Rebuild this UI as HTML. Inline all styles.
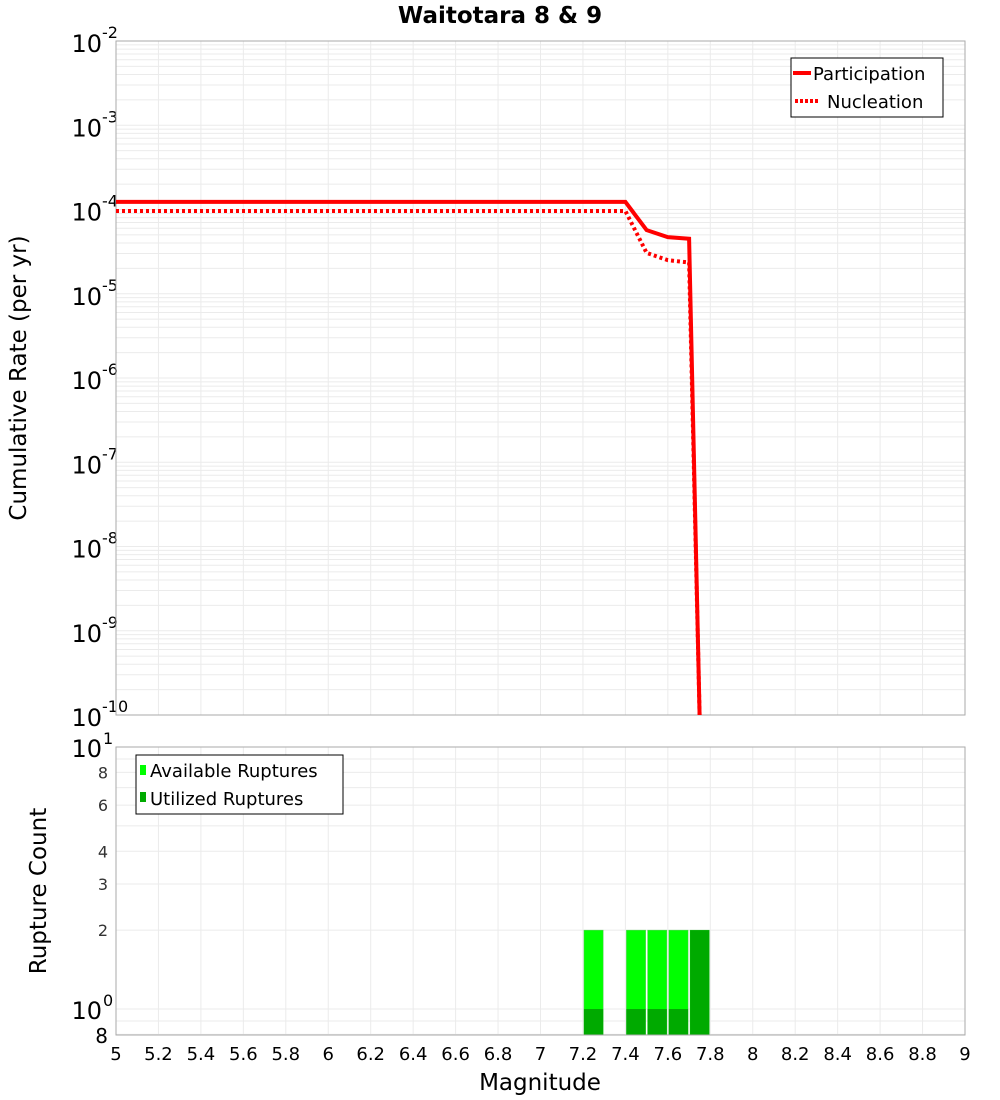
<!DOCTYPE html>
<html><head><meta charset="utf-8"><style>
body{margin:0;background:#fff;}
svg{display:block;font-family:"DejaVu Sans","Liberation Sans",sans-serif;}
</style></head><body>
<svg id="c" width="1000" height="1100" xmlns="http://www.w3.org/2000/svg">
<rect width="1000" height="1100" fill="#fff"/>
<text x="500" y="23" text-anchor="middle" font-size="23" font-weight="bold">Waitotara 8 &amp; 9</text>
<g id="topG"></g>
<g id="botG"></g>
<text transform="translate(26,378) rotate(-90)" text-anchor="middle" font-size="23">Cumulative Rate (per yr)</text>
<text transform="translate(46,891) rotate(-90)" text-anchor="middle" font-size="23">Rupture Count</text>
<text x="540" y="1090" text-anchor="middle" font-size="23">Magnitude</text>
</svg>
<script>
const partMags=[5,5.1,5.2,5.3,5.4,5.5,5.6,5.7,5.8,5.9,6,6.1,6.2,6.3,6.4,6.5,6.6,6.7,6.8,6.9,7,7.1,7.2,7.3,7.4,7.5,7.6,7.7,7.75];
const partRates=[1.23e-4,1.23e-4,1.23e-4,1.23e-4,1.23e-4,1.23e-4,1.23e-4,1.23e-4,1.23e-4,1.23e-4,1.23e-4,1.23e-4,1.23e-4,1.23e-4,1.23e-4,1.23e-4,1.23e-4,1.23e-4,1.23e-4,1.23e-4,1.23e-4,1.23e-4,1.23e-4,1.23e-4,1.23e-4,5.7e-5,4.7e-5,4.5e-5,1e-12];
const nuclRates=[9.6e-5,9.6e-5,9.6e-5,9.6e-5,9.6e-5,9.6e-5,9.6e-5,9.6e-5,9.6e-5,9.6e-5,9.6e-5,9.6e-5,9.6e-5,9.6e-5,9.6e-5,9.6e-5,9.6e-5,9.6e-5,9.6e-5,9.6e-5,9.6e-5,9.6e-5,9.6e-5,9.6e-5,9.6e-5,3.05e-5,2.5e-5,2.35e-5,1e-12];
const binMags=[7.2,7.4,7.5,7.6,7.7];
const availCounts=[2,2,2,2,2];
const usedCounts=[1,1,1,1,2];
const xTicks=["5","5.2","5.4","5.6","5.8","6","6.2","6.4","6.6","6.8","7","7.2","7.4","7.6","7.8","8","8.2","8.4","8.6","8.8","9"];
const yExps=[-2,-3,-4,-5,-6,-7,-8,-9,-10];
const botTicks=["8","6","4","3","2"];
const botTickVals=[8,6,4,3,2];

const NS="http://www.w3.org/2000/svg";
const L=116,R=965,T1=41,B1=715,T2=747,B2=1035;
const xs=m=>L+(m-5)/4*(R-L);
const y1=v=>T1+(-2-Math.log10(v))*(B1-T1)/8;
const y2=v=>B2-(Math.log10(v)-Math.log10(0.796))*(B2-T2)/(1-Math.log10(0.796));
function mk(p,tag,a,txt){const e=document.createElementNS(NS,tag);for(const k in a)e.setAttribute(k,a[k]);if(txt!=null)e.textContent=txt;p.appendChild(e);return e;}
const topG=document.getElementById('topG'),botG=document.getElementById('botG');
for(let d=-10;d<-2;d++)for(let k=1;k<10;k++){const yy=y1(k*Math.pow(10,d));
 const g=mk(topG,'line',{x1:L,x2:R,y1:yy,y2:yy,stroke:'#ebebeb','stroke-width':1});
 
 }
xTicks.forEach(t=>{const xx=xs(+t);
 const g=mk(topG,'line',{x1:xx,x2:xx,y1:T1,y2:B1,stroke:'#ebebeb'});
 
 
 const g2=mk(botG,'line',{x1:xx,x2:xx,y1:T2,y2:B2,stroke:'#ebebeb'});
 
 
 const tl=mk(botG,'text',{x:xx,y:1060,'text-anchor':'middle','font-size':18},t);
 
 });
yExps.forEach(e=>{const yy=y1(Math.pow(10,e));
 const t=mk(topG,'text',{x:102,y:yy+11,'text-anchor':'end','font-size':24},'10');
 
 
 const s=mk(topG,'text',{x:102,y:yy-3,'font-size':16},String(e));
 
 });
mk(topG,'rect',{x:L,y:T1,width:R-L,height:B1-T1,fill:'none',stroke:'#aaa'});
function path(rates){return partMags.map((m,i)=>(i?'L':'M')+xs(m).toFixed(1)+','+Math.min(y1(rates[i]),B1+5).toFixed(1)).join('');}
const cp=mk(topG,'clipPath',{id:'cp'});mk(cp,'rect',{x:L,y:T1,width:R-L,height:B1-T1});
const pl=mk(topG,'path',{d:path(partRates),fill:'none',stroke:'#f00','stroke-width':4,'clip-path':'url(#cp)'});


const nl=mk(topG,'path',{d:path(nuclRates),fill:'none',stroke:'#f00','stroke-width':4,'stroke-dasharray':'3,3','clip-path':'url(#cp)'});


const lg=mk(topG,'g',{});


mk(lg,'rect',{x:791,y:58,width:152,height:59,fill:'#fff',stroke:'#000'});
mk(lg,'line',{x1:793,x2:811,y1:73,y2:73,stroke:'#f00','stroke-width':4});
mk(lg,'text',{x:813,y:80,'font-size':18},'Participation');
mk(lg,'line',{x1:795,x2:820,y1:101,y2:101,stroke:'#f00','stroke-width':4,'stroke-dasharray':'3,2'});
mk(lg,'text',{x:827,y:108,'font-size':18},'Nucleation');
[0.8,0.9,1,2,3,4,5,6,7,8,9,10].forEach(v=>{const yy=y2(v);
 const g=mk(botG,'line',{x1:L,x2:R,y1:yy,y2:yy,stroke:'#ebebeb'});
 
 });
botTicks.forEach((t,i)=>{const s=mk(botG,'text',{x:108,y:y2(botTickVals[i])+6,'text-anchor':'end','font-size':16,fill:'#333'},t);
 
 });
[[1,'0'],[10,'1']].forEach(([v,e])=>{const yy=y2(v);
 const t=mk(botG,'text',{x:102,y:yy+10,'text-anchor':'end','font-size':24},'10');
 
 
 const s=mk(botG,'text',{x:103,y:yy-3,'font-size':16},e);
 
 });
const e8=mk(botG,'text',{x:108,y:1043,'text-anchor':'end','font-size':20},'8');


binMags.forEach((m,i)=>{const x0=xs(m)+1,w=xs(m+0.1)-xs(m)-2;
 const a=mk(botG,'rect',{x:x0,y:y2(availCounts[i]),width:w,height:B2-y2(availCounts[i]),fill:'#00ff00',stroke:'#5c5','stroke-width':0.5});
 
 
 const u=mk(botG,'rect',{x:x0,y:y2(usedCounts[i]),width:w,height:B2-y2(usedCounts[i]),fill:'#00aa00'});
 
 });
mk(botG,'rect',{x:L,y:T2,width:R-L,height:B2-T2,fill:'none',stroke:'#aaa'});
const lg2=mk(botG,'g',{});


mk(lg2,'rect',{x:136,y:755,width:207,height:59,fill:'#fff',stroke:'#000'});
mk(lg2,'rect',{x:140,y:765,width:6,height:10,fill:'#00ff00'});
mk(lg2,'text',{x:150,y:777,'font-size':18},'Available Ruptures');
mk(lg2,'rect',{x:140,y:792,width:6,height:10,fill:'#00aa00'});
mk(lg2,'text',{x:150,y:805,'font-size':18},'Utilized Ruptures');
</script>
</body></html>
